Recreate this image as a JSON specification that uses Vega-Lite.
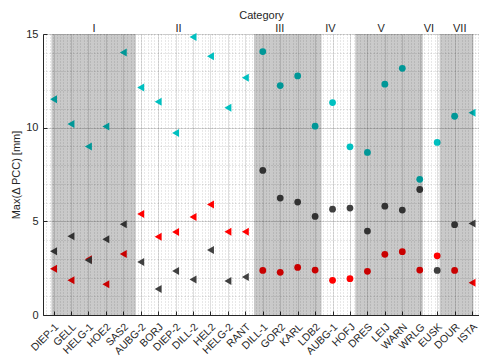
{
  "$schema": "https://vega.github.io/schema/vega-lite/v6.json",
  "autosize": "none",
  "width": 436,
  "height": 281,
  "padding": {"left": 43, "top": 34, "right": 0, "bottom": 42},
  "background": "white",
  "config": {
    "view": {"stroke": null},
    "font": "Liberation Sans",
    "axis": {"labelFont": "Liberation Sans", "titleFont": "Liberation Sans", "labelColor": "#262626", "titleColor": "#262626", "titleFontWeight": "normal", "labelFontSize": 11, "titleFontSize": 11, "zindex": 0}
  },
  "datasets": {
    "stations": [
      {"station": "DIEP-1", "group": "I"}, {"station": "GELL", "group": "I"}, {"station": "HELG-1", "group": "I"}, {"station": "HOE2", "group": "I"}, {"station": "SAS2", "group": "I"},
      {"station": "AUBG-2", "group": "II"}, {"station": "BORJ", "group": "II"}, {"station": "DIEP-2", "group": "II"}, {"station": "DILL-2", "group": "II"}, {"station": "HEL2", "group": "II"}, {"station": "HELG-2", "group": "II"}, {"station": "RANT", "group": "II"},
      {"station": "DILL-1", "group": "III"}, {"station": "GOR2", "group": "III"}, {"station": "KARL", "group": "III"}, {"station": "LDB2", "group": "III"},
      {"station": "AUBG-1", "group": "IV"}, {"station": "HOFJ", "group": "IV"},
      {"station": "DRES", "group": "V"}, {"station": "LEIJ", "group": "V"}, {"station": "WARN", "group": "V"}, {"station": "WRLG", "group": "V"},
      {"station": "EUSK", "group": "VI"},
      {"station": "DOUR", "group": "VII"}, {"station": "ISTA", "group": "VII"}
    ],
    "pcc": [
      {"station": "DIEP-1", "type": "T", "series": "LC", "value": 11.52},
      {"station": "GELL", "type": "T", "series": "LC", "value": 10.19},
      {"station": "HELG-1", "type": "T", "series": "LC", "value": 9.0},
      {"station": "HOE2", "type": "T", "series": "LC", "value": 10.06},
      {"station": "SAS2", "type": "T", "series": "LC", "value": 14.01},
      {"station": "AUBG-2", "type": "T", "series": "LC", "value": 12.14},
      {"station": "BORJ", "type": "T", "series": "LC", "value": 11.39},
      {"station": "DIEP-2", "type": "T", "series": "LC", "value": 9.71},
      {"station": "DILL-2", "type": "T", "series": "LC", "value": 14.84},
      {"station": "HEL2", "type": "T", "series": "LC", "value": 13.81},
      {"station": "HELG-2", "type": "T", "series": "LC", "value": 11.06},
      {"station": "RANT", "type": "T", "series": "LC", "value": 12.66},
      {"station": "DILL-1", "type": "C", "series": "LC", "value": 14.06},
      {"station": "GOR2", "type": "C", "series": "LC", "value": 12.25},
      {"station": "KARL", "type": "C", "series": "LC", "value": 12.76},
      {"station": "LDB2", "type": "C", "series": "LC", "value": 10.08},
      {"station": "AUBG-1", "type": "C", "series": "LC", "value": 11.34},
      {"station": "HOFJ", "type": "C", "series": "LC", "value": 8.98},
      {"station": "DRES", "type": "C", "series": "LC", "value": 8.68},
      {"station": "LEIJ", "type": "C", "series": "LC", "value": 12.32},
      {"station": "WARN", "type": "C", "series": "LC", "value": 13.17},
      {"station": "WRLG", "type": "C", "series": "LC", "value": 7.24},
      {"station": "EUSK", "type": "C", "series": "LC", "value": 9.21},
      {"station": "DOUR", "type": "C", "series": "LC", "value": 10.61},
      {"station": "ISTA", "type": "T", "series": "LC", "value": 10.79},
      {"station": "DIEP-1", "type": "T", "series": "L1", "value": 2.47},
      {"station": "GELL", "type": "T", "series": "L1", "value": 1.85},
      {"station": "HELG-1", "type": "T", "series": "L1", "value": 2.97},
      {"station": "HOE2", "type": "T", "series": "L1", "value": 1.64},
      {"station": "SAS2", "type": "T", "series": "L1", "value": 3.25},
      {"station": "AUBG-2", "type": "T", "series": "L1", "value": 5.39},
      {"station": "BORJ", "type": "T", "series": "L1", "value": 4.18},
      {"station": "DIEP-2", "type": "T", "series": "L1", "value": 4.43},
      {"station": "DILL-2", "type": "T", "series": "L1", "value": 5.23},
      {"station": "HEL2", "type": "T", "series": "L1", "value": 5.90},
      {"station": "HELG-2", "type": "T", "series": "L1", "value": 4.44},
      {"station": "RANT", "type": "T", "series": "L1", "value": 4.44},
      {"station": "DILL-1", "type": "C", "series": "L1", "value": 2.38},
      {"station": "GOR2", "type": "C", "series": "L1", "value": 2.28},
      {"station": "KARL", "type": "C", "series": "L1", "value": 2.54},
      {"station": "LDB2", "type": "C", "series": "L1", "value": 2.40},
      {"station": "AUBG-1", "type": "C", "series": "L1", "value": 1.85},
      {"station": "HOFJ", "type": "C", "series": "L1", "value": 1.94},
      {"station": "DRES", "type": "C", "series": "L1", "value": 2.33},
      {"station": "LEIJ", "type": "C", "series": "L1", "value": 3.24},
      {"station": "WARN", "type": "C", "series": "L1", "value": 3.38},
      {"station": "WRLG", "type": "C", "series": "L1", "value": 2.40},
      {"station": "EUSK", "type": "C", "series": "L1", "value": 3.16},
      {"station": "DOUR", "type": "C", "series": "L1", "value": 2.38},
      {"station": "ISTA", "type": "T", "series": "L1", "value": 1.72},
      {"station": "DIEP-1", "type": "T", "series": "L2", "value": 3.40},
      {"station": "GELL", "type": "T", "series": "L2", "value": 4.21},
      {"station": "HELG-1", "type": "T", "series": "L2", "value": 2.92},
      {"station": "HOE2", "type": "T", "series": "L2", "value": 4.05},
      {"station": "SAS2", "type": "T", "series": "L2", "value": 4.85},
      {"station": "AUBG-2", "type": "T", "series": "L2", "value": 2.83},
      {"station": "BORJ", "type": "T", "series": "L2", "value": 1.39},
      {"station": "DIEP-2", "type": "T", "series": "L2", "value": 2.35},
      {"station": "DILL-2", "type": "T", "series": "L2", "value": 1.90},
      {"station": "HEL2", "type": "T", "series": "L2", "value": 3.47},
      {"station": "HELG-2", "type": "T", "series": "L2", "value": 1.81},
      {"station": "RANT", "type": "T", "series": "L2", "value": 2.03},
      {"station": "DILL-1", "type": "C", "series": "L2", "value": 7.72},
      {"station": "GOR2", "type": "C", "series": "L2", "value": 6.24},
      {"station": "KARL", "type": "C", "series": "L2", "value": 6.03},
      {"station": "LDB2", "type": "C", "series": "L2", "value": 5.26},
      {"station": "AUBG-1", "type": "C", "series": "L2", "value": 5.65},
      {"station": "HOFJ", "type": "C", "series": "L2", "value": 5.71},
      {"station": "DRES", "type": "C", "series": "L2", "value": 4.48},
      {"station": "LEIJ", "type": "C", "series": "L2", "value": 5.81},
      {"station": "WARN", "type": "C", "series": "L2", "value": 5.60},
      {"station": "WRLG", "type": "C", "series": "L2", "value": 6.70},
      {"station": "EUSK", "type": "C", "series": "L2", "value": 2.38},
      {"station": "DOUR", "type": "C", "series": "L2", "value": 4.82},
      {"station": "ISTA", "type": "T", "series": "L2", "value": 4.89}
    ]
  },
  "layer": [
    {
      "data": {"name": "stations"},
      "mark": {"type": "point", "opacity": 0},
      "encoding": {
        "x": {"datum": 0, "type": "quantitative", "scale": {"domain": [0, 25.83], "nice": false, "zero": false},
          "axis": {"orient": "bottom", "tickCount": 130, "grid": true, "gridDash": [1, 2], "gridColor": "#1a1a1a", "gridOpacity": 0.2, "labels": false, "ticks": false, "domain": false, "title": null}},
        "y": {"datum": 0, "type": "quantitative", "scale": {"domain": [0, 15], "nice": false},
          "axis": {"orient": "left", "tickCount": 15, "grid": true, "gridDash": [1, 2], "gridColor": "#1a1a1a", "gridOpacity": 0.2, "labels": false, "ticks": false, "domain": false, "title": null}}
      }
    },
    {
      "data": {"name": "pcc"},
      "mark": {"type": "point", "filled": true, "opacity": 1},
      "encoding": {
        "x": {"field": "station", "type": "nominal", "sort": null,
          "scale": {"domain": ["DIEP-1","GELL","HELG-1","HOE2","SAS2","AUBG-2","BORJ","DIEP-2","DILL-2","HEL2","HELG-2","RANT","DILL-1","GOR2","KARL","LDB2","AUBG-1","HOFJ","DRES","LEIJ","WARN","WRLG","EUSK","DOUR","ISTA"], "paddingInner": 0, "paddingOuter": 0.415, "align": 0.6024, "round": false},
          "axis": {"orient": "bottom", "title": null, "labelAngle": -45, "labelAlign": "right", "labelBaseline": "middle", "labelPadding": 14, "labelOffset": 3, "labelFontSize": 10.5, "labelOverlap": false, "tickSize": -4, "tickColor": "#262626", "domainColor": "#262626", "grid": true, "gridColor": "#262626", "gridOpacity": 0.15, "bandPosition": 0.5}},
        "y": {"field": "value", "type": "quantitative", "scale": {"domain": [0, 15], "nice": false},
          "axis": {"orient": "left", "values": [0, 5, 10, 15], "title": "Max(Δ PCC) [mm]", "tickSize": -4, "labelPadding": 9, "tickColor": "#262626", "domainColor": "#262626", "grid": true, "gridColor": "#262626", "gridOpacity": 0.15}},
        "color": {"field": "series", "type": "nominal", "scale": {"domain": ["LC", "L2", "L1"], "range": ["#00c0c0", "#404040", "#ff0000"]}, "legend": null},
        "shape": {"field": "type", "type": "nominal", "scale": {"domain": ["T", "C"], "range": ["triangle-left", "circle"]}, "legend": null},
        "size": {"field": "type", "type": "ordinal", "scale": {"domain": ["T", "C"], "range": [64, 46]}, "legend": null}
      }
    },
    {
      "data": {"name": "stations"},
      "transform": [{"filter": {"field": "group", "oneOf": ["I", "III", "V", "VII"]}}],
      "mark": {"type": "rect", "color": "black", "opacity": 0.21},
      "encoding": {
        "x": {"field": "station", "type": "nominal", "sort": null,
          "scale": {"domain": ["DIEP-1","GELL","HELG-1","HOE2","SAS2","AUBG-2","BORJ","DIEP-2","DILL-2","HEL2","HELG-2","RANT","DILL-1","GOR2","KARL","LDB2","AUBG-1","HOFJ","DRES","LEIJ","WARN","WRLG","EUSK","DOUR","ISTA"], "paddingInner": 0, "paddingOuter": 0.415, "align": 0.6024, "round": false},
          "axis": null},
        "y": {"datum": 0, "type": "quantitative", "axis": null},
        "y2": {"datum": 15}
      }
    },
    {
      "data": {"name": "stations"},
      "mark": {"type": "point", "opacity": 0},
      "encoding": {
        "x": {"datum": 0, "type": "quantitative", "scale": {"domain": [0, 25.83], "nice": false, "zero": false},
          "axis": {"orient": "top", "values": [3, 8, 14, 17, 20, 22.83, 24.66], "labelExpr": "['I','II','III','IV','V','VI','VII'][round(datum.index*6)]", "title": "Category", "ticks": false, "domain": false, "grid": false, "labelPadding": 1, "titlePadding": 2, "labelFlush": false}}
      }
    }
  ],
  "resolve": {"scale": {"x": "independent"}, "axis": {"x": "independent", "y": "independent"}}
}
